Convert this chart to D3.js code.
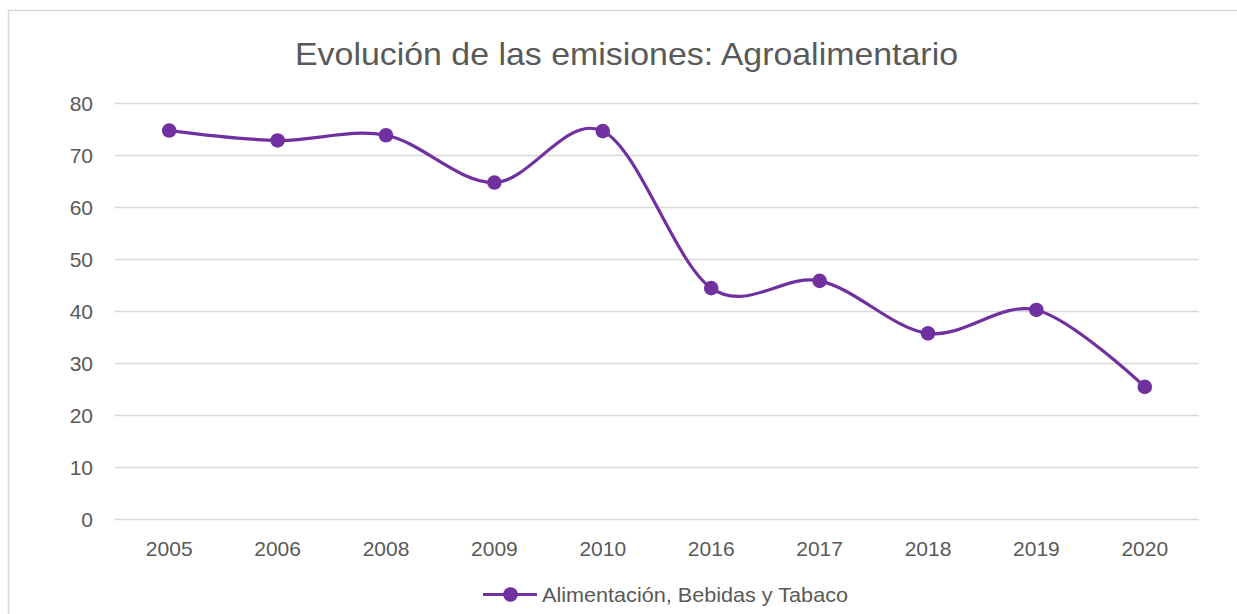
<!DOCTYPE html>
<html>
<head>
<meta charset="utf-8">
<script src="https://cdn.jsdelivr.net/npm/d3@7"></script>
<style>
  body { margin: 0; background: #fff; }
  text { font-family: "Liberation Sans", Arial, sans-serif; fill: #595959; }
</style>
</head>
<body>
<div id="chart"></div>
<script>
const years = ['2005', '2006', '2008', '2009', '2010', '2016', '2017', '2018', '2019', '2020'];
const emissions = [74.7, 72.8, 73.8, 64.7, 74.6, 44.4, 45.8, 35.7, 40.2, 25.4];
const yTicks = [0, 10, 20, 30, 40, 50, 60, 70, 80];
const seriesName = 'Alimentación, Bebidas y Tabaco';
const chartTitle = 'Evolución de las emisiones: Agroalimentario';

const W = 1237, H = 614;
const margin = { top: 103, right: 38, bottom: 95, left: 115 };
const width = W - margin.left - margin.right,
  height = H - margin.top - margin.bottom;
const purple = '#7030a0';

const svg = d3
  .select('#chart')
  .append('svg')
  .attr('width', W)
  .attr('height', H);

// outer chart frame (partly off-screen, as in the screenshot)
svg.append('rect')
  .attr('x', 8.5).attr('y', 10.5)
  .attr('width', W + 20).attr('height', H + 20)
  .attr('fill', 'none')
  .attr('stroke', '#d9d9d9')
  .attr('stroke-width', 1.5);

svg.append('text')
  .attr('x', 626.5).attr('y', 65)
  .attr('text-anchor', 'middle')
  .attr('font-size', 32)
  .attr('textLength', 663)
  .attr('lengthAdjust', 'spacingAndGlyphs')
  .text(chartTitle);

const g = svg.append('g')
  .attr('transform', 'translate(' + margin.left + ',' + margin.top + ')');

const x = d3.scaleBand().domain(years).range([0, width]);
const y = d3.scaleLinear().domain([0, 80]).range([height, 0]);

// gridlines + y labels
const yAxis = g.append('g')
  .call(d3.axisLeft(y).tickValues(yTicks).tickSize(-width).tickPadding(22));
yAxis.select('.domain').remove();
yAxis.selectAll('.tick line').attr('stroke', '#d9d9d9').attr('stroke-width', 1.3);
yAxis.selectAll('.tick text')
  .attr('font-size', 21)
  .attr('font-family', '"Liberation Sans", Arial, sans-serif')
  .attr('fill', '#595959')
  .attr('dy', '0.36em');

// x labels
const xAxis = g.append('g')
  .attr('transform', 'translate(0,' + height + ')')
  .call(d3.axisBottom(x).tickSize(0).tickPadding(22));
xAxis.select('.domain').remove();
xAxis.selectAll('.tick text')
  .attr('font-size', 21)
  .attr('font-family', '"Liberation Sans", Arial, sans-serif')
  .attr('fill', '#595959')
  .attr('dy', '0.71em');

const line = d3.line()
  .x((d, i) => x(years[i]) + x.bandwidth() / 2)
  .y(d => y(d))
  .curve(d3.curveCatmullRom.alpha(0));

g.append('path')
  .datum(emissions)
  .attr('d', line)
  .attr('fill', 'none')
  .attr('stroke', purple)
  .attr('stroke-width', 3.2);

g.selectAll('.dot')
  .data(emissions)
  .enter()
  .append('circle')
  .attr('class', 'dot')
  .attr('cx', (d, i) => x(years[i]) + x.bandwidth() / 2)
  .attr('cy', d => y(d))
  .attr('r', 7.3)
  .attr('fill', purple);

// legend
const legend = svg.append('g').attr('transform', 'translate(483,594.5)');
legend.append('line')
  .attr('x1', 0).attr('x2', 54)
  .attr('stroke', purple).attr('stroke-width', 3.2);
legend.append('circle')
  .attr('cx', 27.5).attr('r', 7.3).attr('fill', purple);
legend.append('text')
  .attr('x', 59).attr('y', 7.5)
  .attr('font-size', 21)
  .attr('textLength', 306)
  .attr('lengthAdjust', 'spacingAndGlyphs')
  .text(seriesName);
</script>
</body>
</html>
